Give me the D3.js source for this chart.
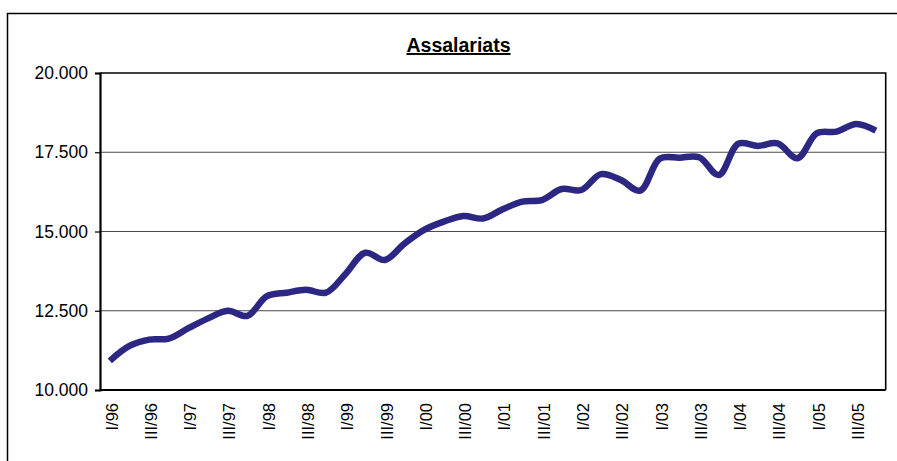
<!DOCTYPE html>
<html>
<head>
<meta charset="utf-8">
<script src="https://cdn.jsdelivr.net/npm/d3@7"></script>
<style>
  html, body { margin: 0; padding: 0; background: #fff; }
  svg { display: block; font-family: "Liberation Sans", Arial, sans-serif; }
</style>
</head>
<body>
<div id="chart"></div>
<script>
"use strict";

// ---------------------------------------------------------------------------
// Data (quarterly, I/96 .. IV/05)
// ---------------------------------------------------------------------------

const years = ["96", "97", "98", "99", "00", "01", "02", "03", "04", "05"];
const quarterNames = ["I", "II", "III", "IV"];

const quarters = years.flatMap((y) => quarterNames.map((q) => `${q}/${y}`));

const assalariats = [
  10920, 11390, 11590, 11620, 11950, 12260, 12500, 12340,
  12960, 13070, 13160, 13070, 13660, 14330, 14100, 14620,
  15050, 15310, 15490, 15410, 15700, 15940, 15990, 16340,
  16310, 16810, 16630, 16290, 17300, 17330, 17340, 16780,
  17770, 17700, 17780, 17310, 18100, 18150, 18390, 18180,
];

const yTicks = [10000, 12500, 15000, 17500, 20000];
const titleText = "Assalariats";

// ---------------------------------------------------------------------------
// Layout
// ---------------------------------------------------------------------------

const width = 897;
const height = 461;
const plot = { left: 100, top: 73, right: 885.7, bottom: 390 };

const svg = d3.select("#chart")
  .append("svg")
  .attr("width", width)
  .attr("height", height);

// outer chart frame (right/bottom fall outside the picture)
svg.append("path")
  .attr("d", `M7.5,${height + 5}V13.5H${width + 5}`)
  .attr("fill", "none")
  .attr("stroke", "#000")
  .attr("stroke-width", 1.5);

const x = d3.scaleBand()
  .domain(quarters)
  .range([plot.left, plot.right]);

const y = d3.scaleLinear()
  .domain([10000, 20000])
  .range([plot.bottom, plot.top]);

// thousands with a dot: 20.000
const fmtThousands = (d) => {
  const s = String(d);
  return s.slice(0, -3) + "." + s.slice(-3);
};

// gridlines
svg.append("g")
  .selectAll("line")
  .data(yTicks.slice(1, -1))
  .join("line")
  .attr("x1", plot.left)
  .attr("x2", plot.right)
  .attr("y1", (d) => y(d))
  .attr("y2", (d) => y(d))
  .attr("stroke", "#4a4a4a")
  .attr("stroke-width", 1.2);

// plot frame: top + right
svg.append("path")
  .attr("d", `M${plot.left},${plot.top}H${plot.right}V${plot.bottom}`)
  .attr("fill", "none")
  .attr("stroke", "#000")
  .attr("stroke-width", 1.6);

// y axis
const yAxis = svg.append("g")
  .attr("transform", `translate(${plot.left},0)`)
  .call(d3.axisLeft(y)
    .tickValues(yTicks)
    .tickSize(5)
    .tickPadding(7)
    .tickFormat(fmtThousands));

yAxis.select(".domain")
  .attr("stroke", "#000")
  .attr("stroke-width", 2.2);
yAxis.selectAll(".tick line")
  .attr("stroke", "#000")
  .attr("stroke-width", 1.2);
yAxis.selectAll(".tick text")
  .attr("fill", "#000")
  .attr("font-size", "17.5px")
  .attr("font-family", "Liberation Sans, Arial, sans-serif");

// x axis (labels every second quarter)
const xAxis = svg.append("g")
  .attr("transform", `translate(0,${plot.bottom})`)
  .call(d3.axisBottom(x)
    .tickValues(quarters.filter((d, i) => i % 2 === 0))
    .tickSize(0)
    .tickPadding(0));

xAxis.select(".domain")
  .attr("stroke", "#000")
  .attr("stroke-width", 2.2)
  .attr("d", `M${plot.left},0H${plot.right}`);
xAxis.selectAll(".tick text")
  .attr("fill", "#000")
  .attr("font-size", "16.5px")
  .attr("font-family", "Liberation Sans, Arial, sans-serif")
  .attr("text-anchor", "end")
  .attr("transform", "rotate(-90)")
  .attr("x", -13)
  .attr("y", 2)
  .attr("dy", "0.35em");

// series line
const line = d3.line()
  .x((d, i) => x(quarters[i]) + x.bandwidth() / 2)
  .y((d) => y(d))
  .curve(d3.curveCatmullRom.alpha(0.5));

svg.append("path")
  .datum(assalariats)
  .attr("d", line)
  .attr("fill", "none")
  .attr("stroke", "#2b2782")
  .attr("stroke-width", 6.5)
  .attr("stroke-linejoin", "round");

// title
svg.append("text")
  .attr("x", 458.5)
  .attr("y", 52)
  .attr("text-anchor", "middle")
  .attr("font-size", "19.5px")
  .attr("font-weight", "bold")
  .attr("text-decoration", "underline")
  .attr("fill", "#000")
  .text(titleText);
</script>
</body>
</html>
